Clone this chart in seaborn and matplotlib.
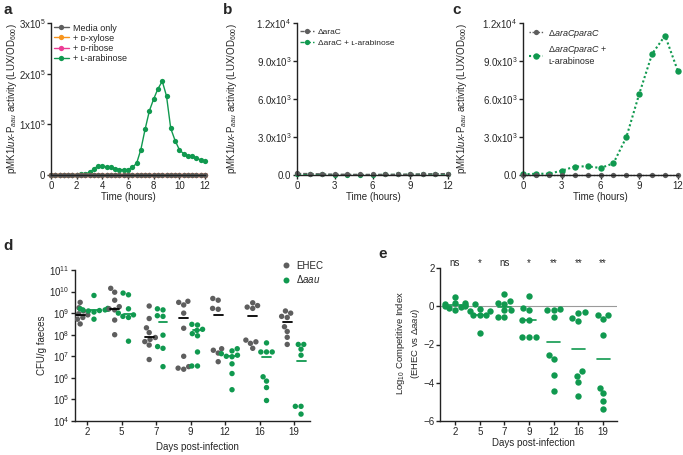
import numpy as np
import pandas as pd
import matplotlib
matplotlib.use("Agg")
import matplotlib.pyplot as plt
import seaborn as sns
from matplotlib.lines import Line2D
from matplotlib.ticker import NullLocator

# ---------------- data ----------------
# panel a (time in hours, luminescence)
time_a = [0, 0.33, 0.67, 1, 1.33, 1.67, 2, 2.33, 2.67, 3, 3.33, 3.67, 4, 4.33, 4.67,
          5, 5.33, 5.67, 6, 6.33, 6.67, 7, 7.33, 7.67, 8, 8.33, 8.67, 9, 9.33, 9.67,
          10, 10.33, 10.67, 11, 11.33, 11.67, 12]
arabinose_a = [200, 200, 200, 300, 300, 500, 800, 1500, 2500, 5000, 12000, 18000, 17000,
               16500, 15000, 12500, 10500, 10500, 10500, 15000, 23000, 50000, 90000,
               127000, 150000, 170000, 185000, 156000, 92000, 68000, 50000, 42000,
               38000, 37000, 33000, 30000, 27000]
xylose_a = [700] * 37
ribose_a = [450] * 37
media_a = [200] * 37

# panel b / c (hourly)
time_bc = [0, 1, 2, 3, 4, 5, 6, 7, 8, 9, 10, 11, 12]
araC_b = [120, 110, 80, 60, 50, 40, 40, 40, 50, 60, 80, 100, 110]
araC_ara_b = [60, 50, 40, 30, 30, 30, 30, 40, 40, 50, 60, 70, 70]
comp_c = [30, 30, 30, 30, 30, 30, 30, 30, 30, 30, 30, 30, 30]
comp_ara_c = [50, 100, 100, 340, 660, 690, 550, 920, 2980, 6410, 9570, 11000, 8180]

# panel d (log10 CFU/g faeces)
days = ["2", "5", "7", "9", "12", "16", "19"]
ehec_d2 = [9.5, 9.25, 9.1, 9.0, 8.97, 8.92, 8.88, 8.8, 8.72, 8.5]
ehec_d5 = [10.15, 9.97, 9.6, 9.3, 9.2, 9.15, 8.68, 8.0]
ehec_d7 = [9.33, 8.75, 8.32, 8.1, 7.87, 7.78, 7.68, 7.52, 6.85]
ehec_d9 = [9.55, 9.5, 9.38, 9.0, 8.3, 7.0, 6.52, 6.45, 6.4]
ehec_d12 = [9.68, 9.6, 9.22, 9.18, 7.35, 7.28, 7.15, 6.75]
ehec_d16 = [9.48, 9.35, 9.28, 9.22, 7.75, 7.67, 7.6, 7.37]
ehec_d19 = [9.1, 9.0, 8.85, 8.8, 8.37, 8.15, 7.88, 7.55]
aau_d2 = [9.82, 9.22, 9.2, 9.18, 9.15, 9.15, 9.12, 9.1, 9.05, 8.72]
aau_d5 = [9.93, 9.85, 9.2, 9.0, 8.92, 8.85, 8.8, 7.7]
aau_d7 = [9.2, 9.15, 8.88, 8.85, 7.98, 7.45, 7.37, 6.52]
aau_d9 = [8.48, 8.45, 8.25, 8.2, 8.05, 7.95, 7.2, 6.55, 6.55]
aau_d12 = [7.35, 7.25, 7.12, 7.05, 7.0, 6.98, 6.65, 6.2, 5.45]
aau_d16 = [7.62, 7.2, 7.2, 7.2, 6.05, 5.85, 5.55, 4.95]
aau_d19 = [7.55, 7.55, 7.33, 7.05, 4.68, 4.68, 4.32]
ehec_med = [8.9, 9.19, 7.88, 8.76, 8.9, 8.88, 8.59]
aau_med = [9.15, 8.95, 8.6, 8.2, 7.0, 6.95, 6.78]

# panel e (log10 competitive index)
ci_d2 = [0.5, 0.18, 0.15, 0.12, 0.05, 0.02, 0.0, -0.05, -0.1, -0.2]
ci_d5 = [0.13, -0.12, -0.24, -0.24, -0.47, -0.47, -0.47, -1.38]
ci_d7 = [0.63, 0.28, 0.15, 0.12, -0.22, -0.22, -0.57, -0.55]
ci_d9 = [0.55, -0.1, -0.2, -0.72, -0.72, -1.62, -1.6, -1.62]
ci_d12 = [-0.15, -0.2, -0.2, -0.54, -2.57, -2.78, -3.62, -4.43]
ci_d16 = [-0.28, -0.35, -0.6, -0.75, -3.38, -3.64, -3.97, -4.7]
ci_d19 = [-0.45, -0.45, -0.68, -1.5, -4.25, -4.53, -4.95, -5.35]
ci_med = [0.05, -0.45, -0.05, -0.72, -1.85, -2.22, -2.78]
ci_sig = ["ns", "*", "ns", "*", "**", "**", "**"]

# ---------------- style ----------------
sns.set_theme(style="ticks")
plt.rcParams["font.family"] = ["Liberation Sans", "DejaVu Sans"]
plt.rcParams["mathtext.fontset"] = "custom"
plt.rcParams["mathtext.rm"] = "Liberation Sans"
plt.rcParams["mathtext.it"] = "Liberation Sans:italic"
plt.rcParams["mathtext.bf"] = "Liberation Sans:bold"
plt.rcParams["axes.linewidth"] = 1.0

GREY = "#5e5e5e"
GREEN = "#10994f"
ORANGE = "#f7941d"
PINK = "#ec3c94"

W, H = 683, 455
fig = plt.figure(figsize=(W / 100, H / 100), dpi=100)


def add_ax(x1, y1, x2, y2):
    return fig.add_axes([x1 / W, 1 - y2 / H, (x2 - x1) / W, (y2 - y1) / H])


def style(ax):
    sns.despine(ax=ax)
    ax.tick_params(direction="out", length=3, width=1, labelsize=7, pad=1, color="#222222")
    for s in ("left", "bottom"):
        ax.spines[s].set_color("#222222")


def place_labels(ax, ylab, ylx, yly, xlab, xlx, xly, yfs=7):
    b = ax.get_position()
    ax.set_ylabel(ylab, fontsize=yfs, va="center", ha="center")
    ax.yaxis.set_label_coords((ylx / W - b.x0) / b.width, ((1 - yly / H) - b.y0) / b.height)
    ax.set_xlabel(xlab, fontsize=7, va="center", ha="center")
    ax.xaxis.set_label_coords((xlx / W - b.x0) / b.width, ((1 - xly / H) - b.y0) / b.height)


ylab_lux = r"pMK1$\it{lux}$-P$_{\it{aau}}$ activity (LUX/OD$_{600}$)"
MS = 3.8

# ---------------- panel a ----------------
axa = add_ax(51, 23, 205, 175)
for vals, col in [(arabinose_a, GREEN), (ribose_a, PINK), (xylose_a, ORANGE), (media_a, GREY)]:
    sns.lineplot(x=time_a, y=vals, color=col, marker="o", markersize=MS, markeredgewidth=0,
                 linewidth=1.0, ax=axa, clip_on=False)
axa.set_xlim(0, 12)
axa.set_ylim(0, 3e5)
axa.set_xticks([0, 2, 4, 6, 8, 10, 12])
axa.set_yticks([0, 1e5, 2e5, 3e5])
axa.set_yticklabels(["0", r"1x10$^{5}$", r"2x10$^{5}$", r"3x10$^{5}$"])
style(axa)
place_labels(axa, ylab_lux, 12, 99, "Time (hours)", 128, 197)
ha = [Line2D([], [], color=c, marker="o", markersize=MS, markeredgewidth=0, lw=1.0)
      for c in (GREY, ORANGE, PINK, GREEN)]
fig.legend(ha, ["Media only", "+ ᴅ-xylose", "+ ᴅ-ribose", "+ ʟ-arabinose"],
           loc="upper left", bbox_to_anchor=(49 / W, 1 - 19 / H), frameon=False,
           fontsize=6.5, handlelength=1.7, handletextpad=0.5, labelspacing=0.12, borderpad=0)

# ---------------- panel b ----------------
axb = add_ax(297, 23, 448, 175)
sns.lineplot(x=time_bc, y=araC_ara_b, color=GREEN, marker="o", markersize=MS, markeredgewidth=0,
             linewidth=1.0, linestyle=(0, (3, 1.5)), ax=axb, clip_on=False)
sns.lineplot(x=time_bc, y=araC_b, color=GREY, marker="o", markersize=MS, markeredgewidth=0,
             linewidth=1.0, linestyle=(0, (3, 1.5)), ax=axb, clip_on=False)
axb.set_xlim(0, 12)
axb.set_ylim(0, 12000)
axb.set_xticks([0, 3, 6, 9, 12])
axb.set_yticks([0, 3000, 6000, 9000, 12000])
axb.set_yticklabels(["0.0", r"3.0x10$^{3}$", r"6.0x10$^{3}$", r"9.0x10$^{3}$", r"1.2x10$^{4}$"])
style(axb)
place_labels(axb, ylab_lux, 232, 99, "Time (hours)", 373, 197)
hb = [Line2D([], [], color=c, marker="o", markersize=MS, markeredgewidth=0, lw=1.0,
             linestyle=(0, (3, 1.5))) for c in (GREY, GREEN)]
fig.legend(hb, ["ΔaraC", "ΔaraC + ʟ-arabinose"], loc="upper left",
           bbox_to_anchor=(296 / W, 1 - 24 / H), frameon=False, fontsize=6,
           handlelength=1.6, handletextpad=0.5, labelspacing=0.35, borderpad=0)

# ---------------- panel c ----------------
axc = add_ax(523, 23, 678, 175)
sns.lineplot(x=time_bc, y=comp_ara_c, color=GREEN, marker="o", markersize=4.6, markeredgewidth=0,
             linewidth=1.5, linestyle=(0, (1, 1.2)), ax=axc, clip_on=False)
sns.lineplot(x=time_bc, y=comp_c, color=GREY, marker="o", markersize=MS, markeredgewidth=0,
             linewidth=1.0, linestyle=(0, (1, 1.2)), ax=axc, clip_on=False)
axc.set_xlim(0, 12)
axc.set_ylim(0, 12000)
axc.set_xticks([0, 3, 6, 9, 12])
axc.set_yticks([0, 3000, 6000, 9000, 12000])
axc.set_yticklabels(["0.0", r"3.0x10$^{3}$", r"6.0x10$^{3}$", r"9.0x10$^{3}$", r"1.2x10$^{4}$"])
style(axc)
place_labels(axc, ylab_lux, 462, 99, "Time (hours)", 600, 197)
hc = [Line2D([], [], color=GREY, marker="o", markersize=MS, markeredgewidth=0, lw=1.0, linestyle=(0, (1, 1.2))),
      Line2D([], [], color=GREEN, marker="o", markersize=4.6, markeredgewidth=0, lw=1.5, linestyle=(0, (1, 1.2)))]
fig.legend(hc, [r"Δ$\it{araCparaC}$", "Δ$\\it{araCparaC}$ +\nʟ-arabinose"], loc="upper left",
           bbox_to_anchor=(524 / W, 1 - 23 / H), frameon=False, fontsize=6.5,
           handlelength=1.6, handletextpad=0.6, labelspacing=0.5, borderpad=0)

# ---------------- panel d ----------------
ehec_lists = [ehec_d2, ehec_d5, ehec_d7, ehec_d9, ehec_d12, ehec_d16, ehec_d19]
aau_lists = [aau_d2, aau_d5, aau_d7, aau_d9, aau_d12, aau_d16, aau_d19]
rows = []
for d, e_vals, a_vals in zip(days, ehec_lists, aau_lists):
    rows += [(d, "EHEC", 10 ** v) for v in e_vals]
    rows += [(d, "Δaau", 10 ** v) for v in a_vals]
dfd = pd.DataFrame(rows, columns=["day", "strain", "cfu"])

axd = add_ax(75, 270, 310, 421)
axd.set_yscale("log")
axd.set_ylim(1e4, 1e11)
sns.swarmplot(data=dfd, x="day", y="cfu", hue="strain", order=days, hue_order=["EHEC", "Δaau"],
              palette=[GREY, GREEN], dodge=True, size=3.9, linewidth=0, ax=axd, legend=False)
for i, (me, ma) in enumerate(zip(ehec_med, aau_med)):
    axd.plot([i - 0.2 - 0.13, i - 0.2 + 0.13], [10 ** me] * 2, color="black", lw=1.3, zorder=5)
    axd.plot([i + 0.2 - 0.13, i + 0.2 + 0.13], [10 ** ma] * 2, color=GREEN, lw=1.3, zorder=5)
axd.set_xlim(-0.35, 6.46)
axd.set_ylim(1e4, 1e11)
axd.set_yticks([10 ** k for k in range(4, 12)])
axd.set_yticklabels([r"10$^{%d}$" % k for k in range(4, 12)])
axd.yaxis.set_minor_locator(NullLocator())
style(axd)
place_labels(axd, "CFU/g faeces", 42, 345, "Days post-infection", 197, 447)
hd = [Line2D([], [], color=c, marker="o", markersize=4.3, markeredgewidth=0, lw=0) for c in (GREY, GREEN)]
fig.legend(hd, ["EHEC", r"Δ$\it{aau}$"], loc="upper left", bbox_to_anchor=(276 / W, 1 - 256 / H),
           frameon=False, fontsize=7, handlelength=1.0, handletextpad=0.6, labelspacing=0.25, borderpad=0)

# ---------------- panel e ----------------
ci_lists = [ci_d2, ci_d5, ci_d7, ci_d9, ci_d12, ci_d16, ci_d19]
erows = []
for d, vals in zip(days, ci_lists):
    erows += [(d, v) for v in vals]
dfe = pd.DataFrame(erows, columns=["day", "ci"])

axe = add_ax(440, 268, 617, 421)
axe.axhline(0, color="#9a9a9a", lw=0.8, zorder=0)
sns.swarmplot(data=dfe, x="day", y="ci", order=days, color=GREEN, size=4.6, linewidth=0, ax=axe)
for i, m in enumerate(ci_med):
    axe.plot([i - 0.27, i + 0.27], [m, m], color=GREEN, lw=1.2, zorder=5)
for i, s in enumerate(ci_sig):
    axe.text(i, 2.27, s, ha="center", va="center", fontsize=7, clip_on=False)
axe.set_xlim(-0.61, 6.56)
axe.set_ylim(-6, 2)
axe.set_yticks([-6, -4, -2, 0, 2])
style(axe)
place_labels(axe, "Log$_{10}$ Competitive Index\n(EHEC vs Δ$\\it{aau}$)", 408, 343,
             "Days post-infection", 533, 443, yfs=6.8)

# ---------------- panel letters ----------------
for lab, x, y in [("a", 3, 10), ("b", 223, 10), ("c", 452, 10), ("d", 3, 246), ("e", 378, 254)]:
    fig.text(x / W, 1 - y / H, lab, fontsize=11, fontweight="bold", va="center", ha="left")

fig.savefig("out.png", dpi=100)
